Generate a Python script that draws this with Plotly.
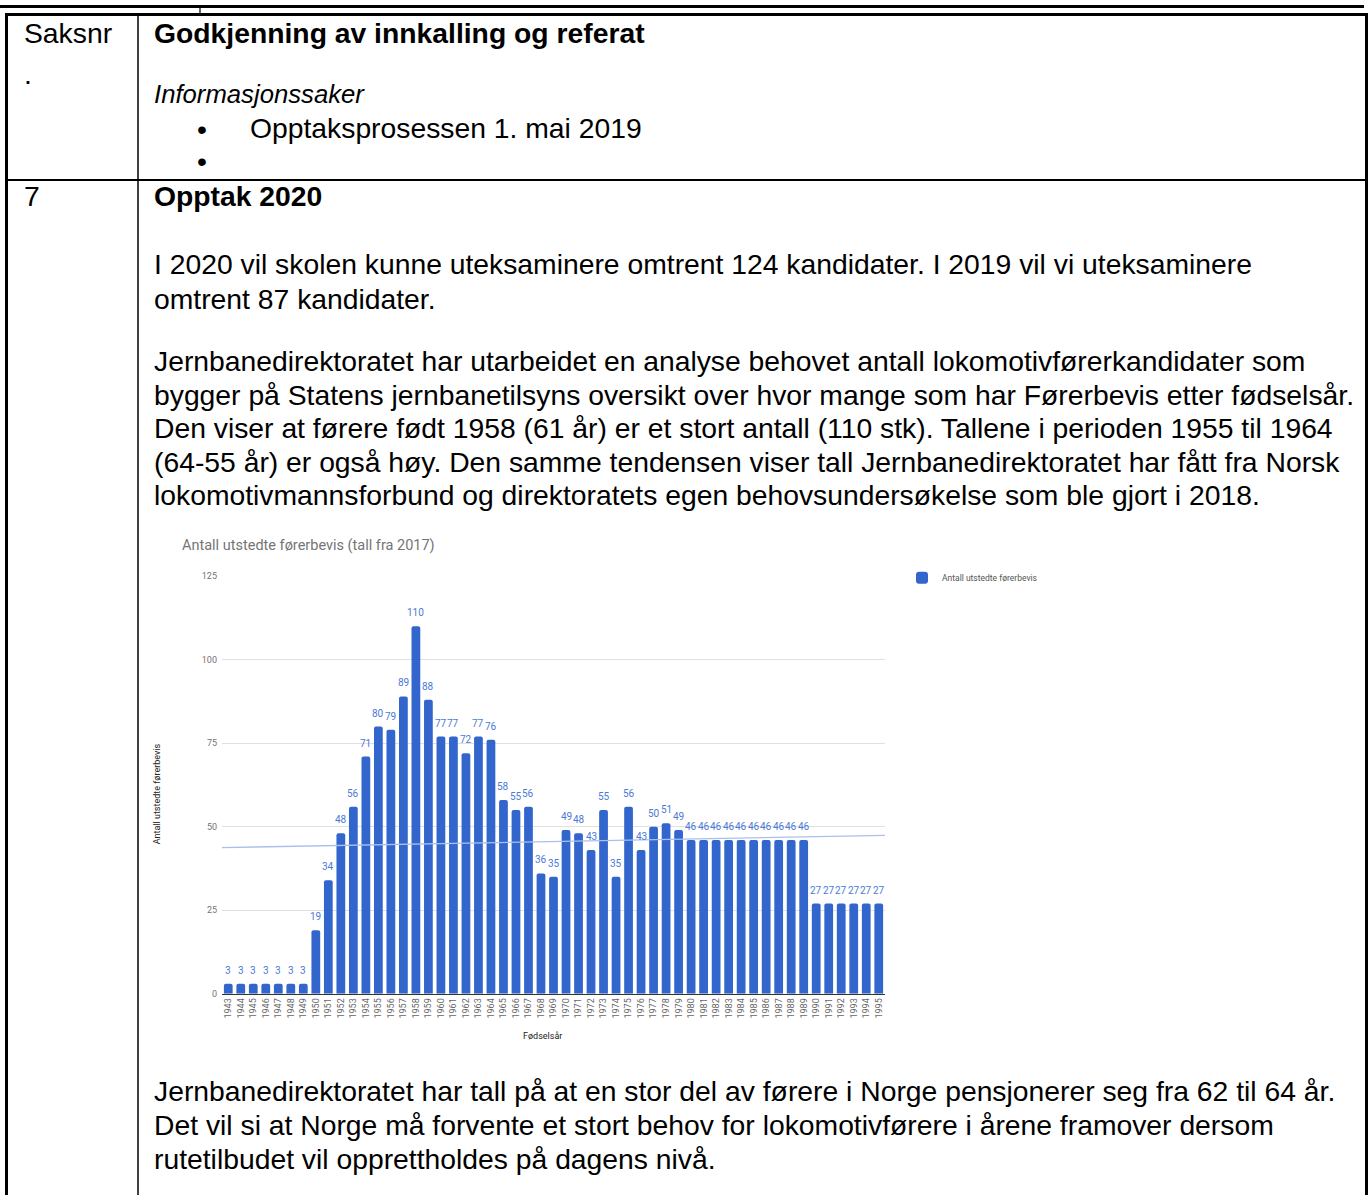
import numpy as np
import plotly.graph_objects as go

W, H = 1370, 1200

# ---------------- data ----------------
years = list(range(1943, 1996))
counts = [3, 3, 3, 3, 3, 3, 3,
          19, 34, 48, 56, 71, 80, 79, 89, 110, 88,
          77, 77, 72, 77, 76, 58, 55, 56, 36, 35,
          49, 48, 43, 55, 35, 56, 43, 50, 51, 49,
          46, 46, 46, 46, 46, 46, 46, 46, 46, 46,
          27, 27, 27, 27, 27, 27]
year_labels = [str(y) for y in years]
y_ticks = [0, 25, 50, 75, 100, 125]

chart_title = "Antall utstedte førerbevis (tall fra 2017)"
series_name = "Antall utstedte førerbevis"
x_title = "Fødselsår"
y_title = "Antall utstedte førerbevis"

# page text
para1 = ["I 2020 vil skolen kunne uteksaminere omtrent 124 kandidater. I 2019 vil vi uteksaminere",
         "omtrent 87 kandidater."]
para2 = ["Jernbanedirektoratet har utarbeidet en analyse behovet antall lokomotivførerkandidater som",
         "bygger på Statens jernbanetilsyns oversikt over hvor mange som har Førerbevis etter fødselsår.",
         "Den viser at førere født 1958 (61 år) er et stort antall (110 stk). Tallene i perioden 1955 til 1964",
         "(64-55 år) er også høy. Den samme tendensen viser tall Jernbanedirektoratet har fått fra Norsk",
         "lokomotivmannsforbund og direktoratets egen behovsundersøkelse som ble gjort i 2018."]
para3 = ["Jernbanedirektoratet har tall på at en stor del av førere i Norge pensjonerer seg fra 62 til 64 år.",
         "Det vil si at Norge må forvente et stort behov for lokomotivførere i årene framover dersom",
         "rutetilbudet vil opprettholdes på dagens nivå."]

# ---------------- helpers ----------------
def px(x):
    return x / W

def py(y):
    return 1 - y / H

PAGE_FONT = "Liberation Sans, Arial, sans-serif"
CHART_FONT = "Roboto, Arial, sans-serif"
BODY = 28.3

def txt(x, y, s, size=BODY, color="black", anchor="left", **fkw):
    return dict(xref="paper", yref="paper", x=px(x), y=py(y), text=s,
                showarrow=False, xanchor=anchor, yanchor="middle",
                font=dict(family=PAGE_FONT, size=size, color=color, **fkw))

def hline(x0, x1, y, w):
    return dict(type="line", xref="paper", yref="paper", x0=px(x0), x1=px(x1),
                y0=py(y), y1=py(y), line=dict(color="black", width=w))

def vline(x, y0, y1, w):
    return dict(type="line", xref="paper", yref="paper", x0=px(x), x1=px(x),
                y0=py(y0), y1=py(y1), line=dict(color="black", width=w))

# ---------------- figure ----------------
fig = go.Figure()

fig.add_trace(go.Bar(
    x=years, y=counts, name=series_name,
    marker=dict(color="#3366cc", line=dict(width=0)),
    hovertemplate="%{x}: %{y}<extra></extra>",
))

# linear trendline computed from the data
slope, intercept = np.polyfit(years, counts, 1)
tx = [years[0] - 0.5, years[-1] + 0.5]
fig.add_trace(go.Scatter(
    x=tx, y=[slope * v + intercept for v in tx], mode="lines",
    line=dict(color="#a9c0ef", width=1.3), showlegend=False, hoverinfo="skip",
))

shapes = [
    hline(0, 1364, 1.5, 3),
    vline(200, 0, 8, 1.2),
    hline(5, 1368, 9.5, 3),
    vline(6.5, 8, 1200, 3),
    vline(1366.5, 8, 1200, 3),
    vline(138, 9, 1200, 1.5),
    hline(5, 1368, 176.5, 2),
]

ann = [
    txt(22, 28, "Saksnr"),
    txt(22, 70, "."),
    txt(152, 28, "Godkjenning av innkalling og referat", weight="bold"),
    txt(152, 90, "<i>Informasjonssaker</i>", size=25.7),
    txt(202, 125, "•", anchor="center"),
    txt(248, 124, "Opptaksprosessen 1. mai 2019"),
    txt(202, 157, "•", anchor="center"),
    txt(22, 193, "7"),
    txt(152, 193, "Opptak 2020", weight="bold"),
]
for i, s in enumerate(para1):
    ann.append(txt(152, 261 + 35.5 * i, s))
for i, s in enumerate(para2):
    ann.append(txt(152, 359 + 33.8 * i, s))
for i, s in enumerate(para3):
    ann.append(txt(152, 1095 + 34.2 * i, s))

# data labels (from the data, positioned on the axes)
for yr, v in zip(years, counts):
    ann.append(dict(xref="x", yref="y", x=yr, y=v, text=str(v), showarrow=False,
                    xanchor="center", yanchor="middle", yshift=13.5,
                    font=dict(family=CHART_FONT, size=10, color="#4a7ad6")))

# chart titles
ann.append(dict(xref="paper", yref="paper", x=px(180), y=py(545), text=chart_title,
                showarrow=False, xanchor="left", yanchor="middle",
                font=dict(family=CHART_FONT, size=14.5, color="#757575")))
ann.append(dict(xref="paper", yref="paper", x=px(157), y=py(796), text=y_title,
                showarrow=False, xanchor="center", yanchor="middle", textangle=-90,
                font=dict(family=CHART_FONT, size=9, color="#222222")))
ann.append(dict(xref="paper", yref="paper", x=px(542), y=py(1040), text=x_title,
                showarrow=False, xanchor="center", yanchor="middle",
                font=dict(family=CHART_FONT, size=9, color="#222222")))

fig.update_layout(
    width=W, height=H, autosize=False,
    margin=dict(l=0, r=0, t=0, b=0),
    paper_bgcolor="white", plot_bgcolor="white",
    bargap=0.3, barcornerradius=2,
    shapes=shapes, annotations=ann,
    showlegend=True,
    legend=dict(x=px(902), y=py(563), xanchor="left", yanchor="top",
                font=dict(family=CHART_FONT, size=8.5, color="#555555"),
                bgcolor="rgba(0,0,0,0)", itemwidth=30),
    xaxis=dict(domain=[px(222), px(885)], range=[years[0] - 0.5, years[-1] + 0.5],
               tickmode="array", tickvals=years, ticktext=year_labels, tickangle=-90,
               tickfont=dict(family=CHART_FONT, size=9, color="#666666"),
               showgrid=False, showline=True, linecolor="#333333", linewidth=1,
               ticks="", zeroline=False, fixedrange=True),
    yaxis=dict(domain=[py(997), py(576)], range=[0, 125],
               tickmode="array", tickvals=y_ticks,
               tickfont=dict(family=CHART_FONT, size=9, color="#757575"),
               showgrid=True, gridcolor="#e0e0e0", gridwidth=1,
               zeroline=False, showline=False, ticks="", ticklabelstandoff=4,
               fixedrange=True),
)

fig.write_html("out.html", config={"displayModeBar": False},
               post_script="document.body.style.margin='0';")
